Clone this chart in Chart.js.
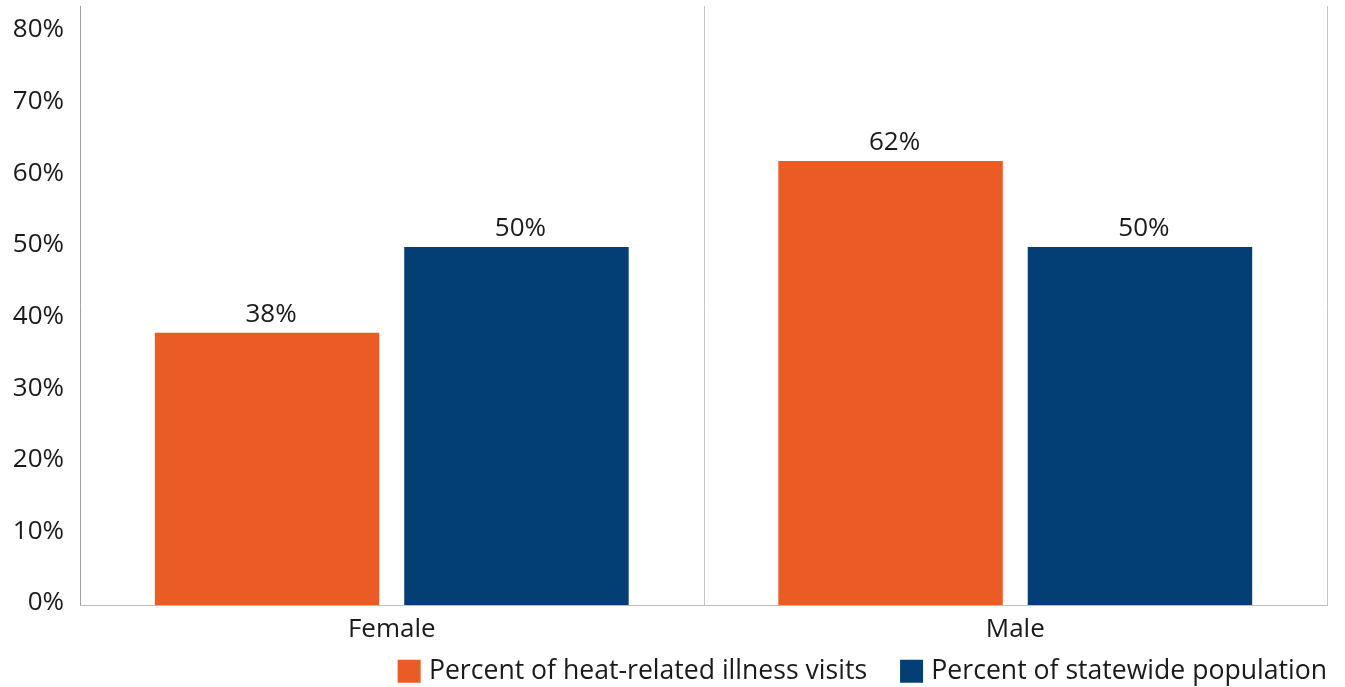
<!DOCTYPE html>
<html>
<head>
<meta charset="utf-8">
<script src="https://cdn.jsdelivr.net/npm/chart.js@4/dist/chart.umd.min.js"></script>
<style>
  html, body { margin: 0; padding: 0; background: #fff; }
  #wrap { width: 1345px; height: 687px; position: relative; }
</style>
</head>
<body>
<div id="wrap"><canvas id="c"></canvas></div>
<script>
// Sex breakdown: heat-related illness visits vs statewide population
const categories = ['Female', 'Male'];
const heatVisits = [38, 62];
const statePopulation = [50, 50];
const seriesNames = ['Percent of heat-related illness visits', 'Percent of statewide population'];
const seriesColors = ['#ea5b26', '#033e75'];
const yTicks = [0, 10, 20, 30, 40, 50, 60, 70, 80];

const FONT = '"Open Sans", "Noto Sans", sans-serif';
const TEXT = '#1a1a1a';
const LEGEND_GAP = 38;

// Vertical separators between categories, running up above the plot top
const separators = {
  id: 'separators',
  afterDraw(chart) {
    const x = chart.scales.x, area = chart.chartArea, ctx = chart.ctx;
    const step = x.getPixelForValue(1) - x.getPixelForValue(0);
    ctx.save();
    ctx.lineWidth = 1;
    for (let i = 0; i <= categories.length; i++) {
      const px = Math.round(x.getPixelForValue(0) - step / 2 + i * step) + 0.5;
      ctx.strokeStyle = i === 0 ? '#a0a0a0' : '#c4c4c4';
      ctx.beginPath();
      ctx.moveTo(px, 6);
      ctx.lineTo(px, area.bottom);
      ctx.stroke();
    }
    ctx.restore();
  }
};

// Tuck the legend under the category labels and end it flush with the plot's right edge
const legendPlacement = {
  id: 'legendPlacement',
  afterLayout(chart) {
    const lg = chart.legend;
    if (!lg) return;
    lg.left += LEGEND_GAP;
    lg.right += LEGEND_GAP;
    lg.top = chart.chartArea.bottom + 15;
    lg.bottom = lg.top + 80;
  }
};

// Percentage labels above each bar
const valueLabels = {
  id: 'valueLabels',
  afterDatasetsDraw(chart) {
    const ctx = chart.ctx;
    ctx.save();
    ctx.font = '26px ' + FONT;
    ctx.fillStyle = TEXT;
    ctx.textAlign = 'center';
    ctx.textBaseline = 'alphabetic';
    chart.data.datasets.forEach((ds, di) => {
      chart.getDatasetMeta(di).data.forEach((bar, i) => {
        ctx.fillText(ds.data[i] + '%', bar.x + 4, bar.y - 11);
      });
    });
    ctx.restore();
  }
};

new Chart(document.getElementById('c'), {
  type: 'bar',
  data: {
    labels: categories,
    datasets: [
      { label: seriesNames[0], data: heatVisits, backgroundColor: seriesColors[0] },
      { label: seriesNames[1], data: statePopulation, backgroundColor: seriesColors[1] }
    ]
  },
  options: {
    responsive: true,
    maintainAspectRatio: false,
    animation: false,
    categoryPercentage: 0.8,
    barPercentage: 0.9,
    layout: { padding: { top: 32, right: 18, left: 0, bottom: 2 } },
    plugins: {
      tooltip: { enabled: false },
      legend: {
        position: 'bottom',
        align: 'end',
        maxHeight: 35,
        labels: {
          boxWidth: 13,
          boxHeight: 13,
          padding: LEGEND_GAP,
          color: TEXT,
          font: { family: FONT, size: 26.6 },
          generateLabels(chart) {
            return chart.data.datasets.map((ds, i) => ({
              text: ds.label,
              fillStyle: ds.backgroundColor,
              strokeStyle: ds.backgroundColor,
              lineWidth: 10,
              fontColor: TEXT,
              datasetIndex: i,
              hidden: false
            }));
          }
        }
      }
    },
    scales: {
      x: {
        grid: { display: false },
        border: { display: true, color: '#bdbdbd' },
        ticks: { color: TEXT, font: { family: FONT, size: 26 }, padding: 1 },
        afterFit(scale) { scale.height = 45; }
      },
      y: {
        min: 0,
        max: 80,
        grid: { display: false },
        border: { display: false },
        afterBuildTicks(scale) { scale.ticks = yTicks.map(v => ({ value: v })); },
        afterFit(scale) { scale.width = 80; },
        ticks: {
          color: TEXT,
          padding: 8,
          labelOffset: -2,
          font: { family: FONT, size: 26 },
          callback: v => v + '%'
        }
      }
    }
  },
  plugins: [separators, legendPlacement, valueLabels]
});
</script>
</body>
</html>
